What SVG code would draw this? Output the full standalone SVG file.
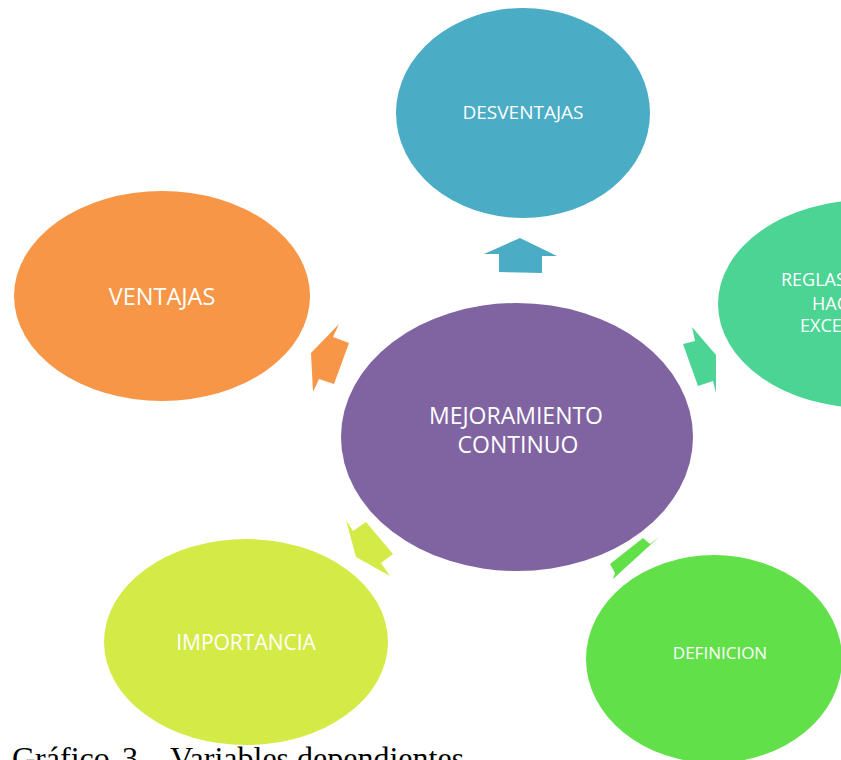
<svg xmlns="http://www.w3.org/2000/svg" width="841" height="760" viewBox="0 0 841 760">
  <style>
    .lbl { font-family: "Open Sans", "Liberation Sans", sans-serif; fill: #ffffff; text-anchor: middle; }
    .lbl-start { font-family: "Open Sans", "Liberation Sans", sans-serif; fill: #ffffff; }
    .caption { font-family: "Liberation Serif", "Times New Roman", serif; fill: #000000; font-size: 32px; }
  </style>
  <rect x="0" y="0" width="841" height="760" fill="#ffffff"/>

  <!-- connectors: block arrows pointing out from the hub -->
  <g id="connectors">
    <polygon fill="#4BACC6" points="520,238 557,256 542,256 542,273 499,272 499,254 484,254"/>
    <polygon fill="#F79646" points="339,324 333,337 349,343 334,384 319,379 313,392 311,353"/>
    <polygon fill="#4CD494" points="692,327 716,355 716,393 713,381 698,386 683,344 695,341"/>
    <polygon fill="#D4EB47" points="346,520 353,531 366,522 393,554 381,563 390,576 356,557"/>
    <polygon fill="#62E04A" points="643,538 650,544 659,537 613,579 615,573 610,564"/>
  </g>

  <g id="desventajas">
    <ellipse cx="523" cy="113" rx="127" ry="105" fill="#4BACC6"/>
    <text class="lbl" x="523" y="119" font-size="19">DESVENTAJAS</text>
  </g>

  <g id="ventajas">
    <ellipse cx="162" cy="296" rx="148" ry="105" fill="#F79646"/>
    <text class="lbl" x="162" y="305" font-size="23.5">VENTAJAS</text>
  </g>

  <g id="reglas">
    <ellipse cx="866" cy="304" rx="148" ry="104" fill="#4CD494"/>
    <text class="lbl-start" x="781" y="286" font-size="18">REGLAS</text>
    <text class="lbl-start" x="812" y="310" font-size="18">HAC</text>
    <text class="lbl-start" x="800" y="332" font-size="18">EXCE</text>
  </g>

  <g id="mejoramiento">
    <ellipse cx="517" cy="437" rx="176" ry="134" fill="#8064A2"/>
    <text class="lbl" x="516" y="424" font-size="23">MEJORAMIENTO</text>
    <text class="lbl" x="518" y="453" font-size="23">CONTINUO</text>
  </g>

  <g id="importancia">
    <ellipse cx="246" cy="642" rx="142" ry="103" fill="#D4EB47"/>
    <text class="lbl" x="246" y="650" font-size="21">IMPORTANCIA</text>
  </g>

  <g id="definicion">
    <ellipse cx="714" cy="659" rx="128" ry="104" fill="#62E04A"/>
    <text class="lbl" x="720" y="659" font-size="17">DEFINICION</text>
  </g>

  <text class="caption" y="769"><tspan x="12">Gráfico</tspan><tspan x="122">3</tspan><tspan x="150">-</tspan><tspan x="170">Variables dependientes</tspan></text>
</svg>
